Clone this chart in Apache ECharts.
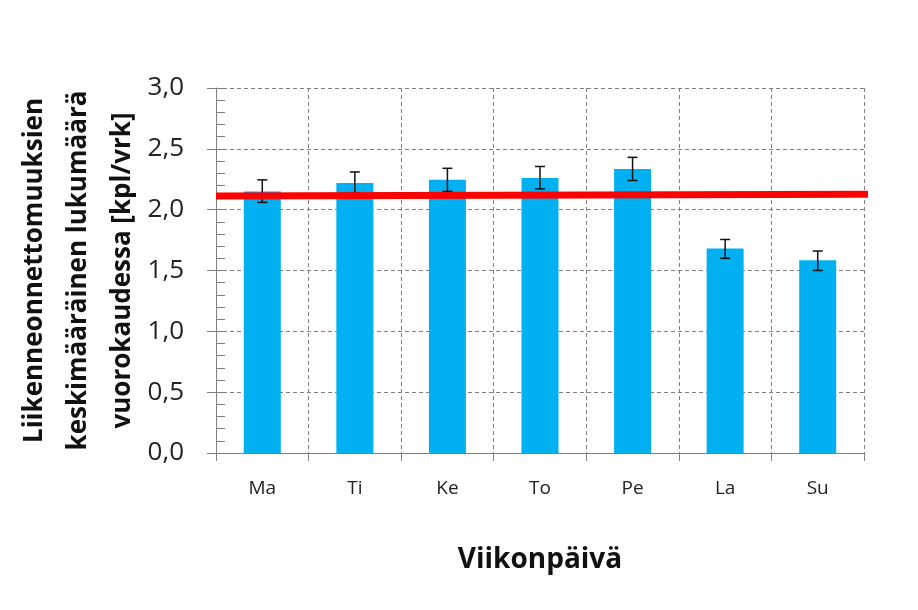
<!DOCTYPE html>
<html><head><meta charset="utf-8">
<script src="https://cdn.jsdelivr.net/npm/echarts@6/dist/echarts.min.js"></script>
<style>html,body{margin:0;padding:0;background:#fff}#c{width:918px;height:610px}</style>
</head><body><div id="c"></div>
<script>
const categories = ['Ma','Ti','Ke','To','Pe','La','Su'];
const means = [2.15, 2.22, 2.245, 2.26, 2.335, 1.68, 1.585];
const errLow = [2.06, 2.135, 2.15, 2.17, 2.24, 1.60, 1.50];
const errHigh = [2.245, 2.31, 2.34, 2.355, 2.43, 1.755, 1.66];
const trendX = [0, 7.12];
const trendY = [2.112, 2.127];
const yTicks = [0, 0.5, 1.0, 1.5, 2.0, 2.5, 3.0];

const font = '"Open Sans", Lato, sans-serif';
const chart = echarts.init(document.getElementById('c'), null, {renderer:'canvas'});
const gridC = '#7f7f7f';
chart.setOption({
  animation:false,
  backgroundColor:'#fff',
  grid:{left:216, right:54, top:88, bottom:157, containLabel:false, outerBoundsMode:'none'},
  xAxis:[{
    type:'category', data:categories, boundaryGap:true,
    axisLine:{lineStyle:{color:gridC, width:1}},
    axisTick:{show:true, length:8, lineStyle:{color:gridC}},
    axisLabel:{color:'#222', fontSize:19, fontFamily:font, margin:26},
    splitLine:{show:true, lineStyle:{color:gridC, type:[4,3], width:1}},
    name:'Viikonpäivä', nameLocation:'middle', nameGap:93,
    nameTextStyle:{fontSize:28, fontWeight:'bold', color:'#111', fontFamily:font}
  },{
    type:'value', min:0, max:7, show:false
  }],
  yAxis:[{
    type:'value', min:0, max:3, interval:0.5,
    axisLine:{show:true, lineStyle:{color:gridC}},
    axisTick:{show:true, length:9, inside:false, lineStyle:{color:gridC}},
    axisLabel:{color:'#222', fontSize:26, fontFamily:font, margin:32,
      formatter:v=>v.toFixed(1).replace('.',',')},
    splitLine:{show:true, lineStyle:{color:gridC, type:[4,3], width:1}},
    name:'Liikenneonnettomuuksien\nkeskimääräinen lukumäärä\nvuorokaudessa [kpl/vrk]',
    nameLocation:'middle', nameGap:137, nameRotate:90, nameMoveOverlap:false,
    nameTextStyle:{fontSize:26, fontWeight:'bold', color:'#111', fontFamily:font, lineHeight:44, align:'center', verticalAlign:'middle'}
  },{
    type:'value', min:0, max:3, interval:0.5, position:'left',
    axisLine:{show:false},
    axisTick:{show:true, length:9, inside:true, lineStyle:{color:gridC}},
    minorTick:{show:true, splitNumber:5, length:9, lineStyle:{color:gridC}},
    axisLabel:{show:false}, splitLine:{show:false}
  }],
  series:[{
    type:'bar', data:means, barWidth:37, xAxisIndex:0, yAxisIndex:0,
    itemStyle:{color:'#00B0F0'}, z:2
  },{
    type:'custom', xAxisIndex:0, yAxisIndex:0, z:3,
    data:categories.map((c,i)=>[i, errLow[i], errHigh[i]]),
    renderItem:(params, api)=>{
      const lo = api.coord([api.value(0), api.value(1)]);
      const hi = api.coord([api.value(0), api.value(2)]);
      const hw = 5;
      const st = {stroke:'#111', lineWidth:1.5};
      return {type:'group', children:[
        {type:'line', shape:{x1:hi[0],y1:hi[1],x2:lo[0],y2:lo[1]}, style:st},
        {type:'line', shape:{x1:hi[0]-hw,y1:hi[1],x2:hi[0]+hw,y2:hi[1]}, style:st},
        {type:'line', shape:{x1:lo[0]-hw,y1:lo[1],x2:lo[0]+hw,y2:lo[1]}, style:st}
      ]};
    }
  },{
    type:'line', xAxisIndex:1, yAxisIndex:0, z:4, clip:false,
    data:trendX.map((x,i)=>[x, trendY[i]]),
    symbol:'none', lineStyle:{color:'#FF0000', width:7}
  }]
});
</script></body></html>
